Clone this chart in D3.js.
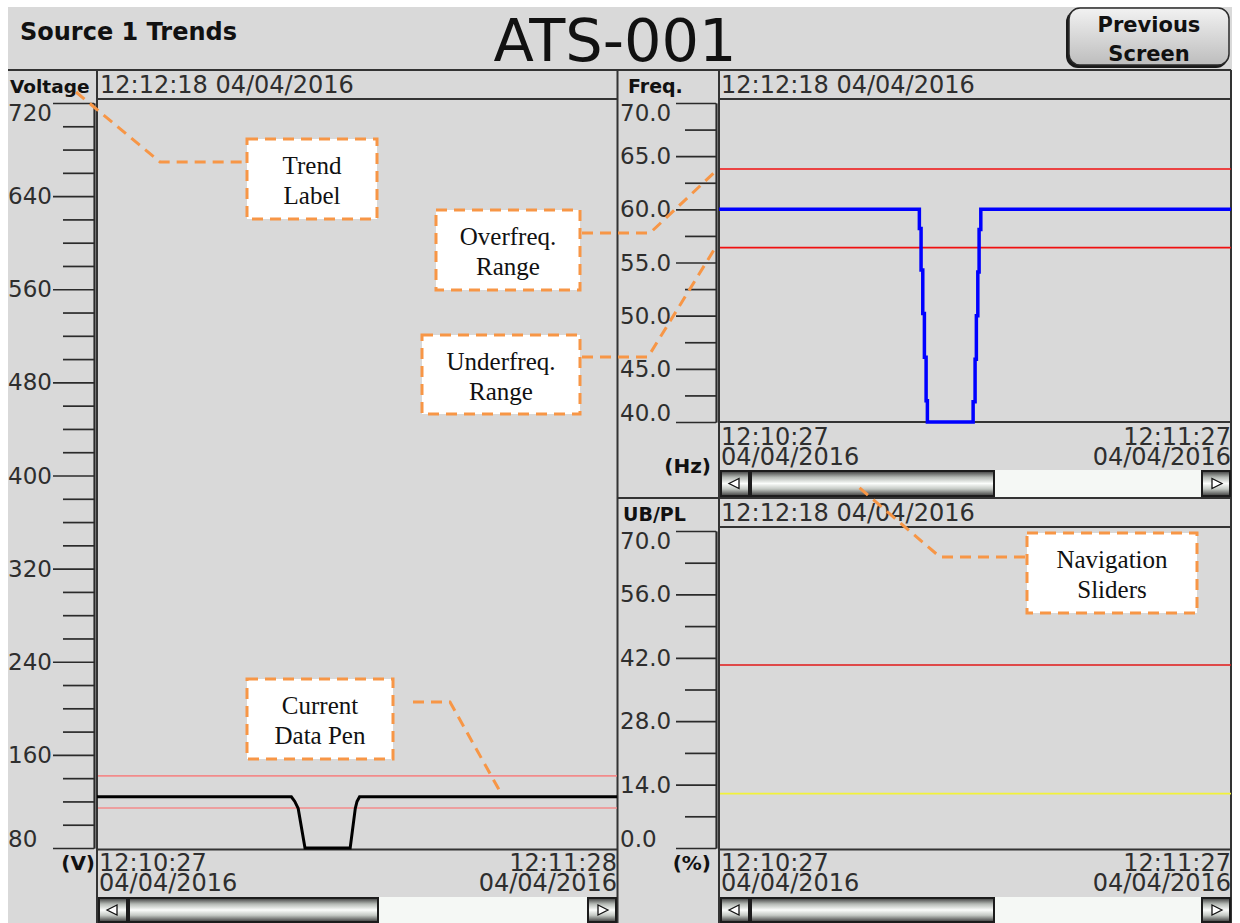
<!DOCTYPE html>
<html>
<head>
<meta charset="utf-8">
<script src="https://cdn.jsdelivr.net/npm/d3@7"></script>
<style>
  body { margin: 0; background: #fff; }
  svg { display: block; }
  .thin { font-family: 'DejaVu Sans', sans-serif; fill: #2e2e2e; }
  .bold { font-family: 'DejaVu Sans', sans-serif; font-weight: bold; fill: #111; }
  .note { font-family: 'Liberation Serif', 'Times New Roman', serif; fill: #111; }
</style>
</head>
<body>
<svg id="screen"></svg>
<script>
/* global d3 */

// Voltage trend (seconds after 12:10:27, volts)
const voltTime = [0, 22.8, 23.2, 23.6, 24.4, 29.7, 30.3, 30.5, 30.8, 61]
const voltValue = [124, 124, 120, 114, 80, 80, 114, 120, 124, 124]
const voltLimits = [142, 114.4]
const voltTicks = [80, 160, 240, 320, 400, 480, 560, 640, 720]

// Frequency trend (seconds after 12:10:27, Hz)
const freqTime = [0, 23.48, 23.68, 23.88, 24.07, 24.27, 24.42, 29.78, 30.01, 30.16, 30.33, 30.48, 30.68, 60]
const freqValue = [60, 58.2, 54.3, 50.2, 46.1, 42.0, 40, 41.9, 45.9, 50, 54.1, 58.1, 60, 60]
const freqLimits = [63.8, 56.4]
const freqTicks = [40, 45, 50, 55, 60, 65, 70]

// Unbalance / phase loss (%)
const ubplLimitRed = 40.4
const ubplLimitYellow = 12
const ubplTicks = [0, 14, 28, 42, 56, 70]

// Texts
const stampNow = '12:12:18 04/04/2016'
const dateLabel = '04/04/2016'
const voltTimeLabels = ['12:10:27', '12:11:28']
const freqTimeLabels = ['12:10:27', '12:11:27']

const svg = d3.select('#screen').attr('width', 1240).attr('height', 923)
const defs = svg.append('defs')

const knob = defs.append('linearGradient').attr('id', 'knob')
  .attr('x1', 0).attr('y1', 0).attr('x2', 0).attr('y2', 1)
const knobStops = [[0, '#3a3a3a'], [0.25, '#b4b9b4'], [0.5, '#fbfdfb'], [0.72, '#c4c9c4'], [1, '#3a3a3a']]
knobStops.forEach(s => knob.append('stop').attr('offset', s[0]).attr('stop-color', s[1]))

const btn = defs.append('linearGradient').attr('id', 'btn')
  .attr('x1', 0).attr('y1', 0).attr('x2', 0).attr('y2', 1)
btn.append('stop').attr('offset', 0).attr('stop-color', '#f2f2f2')
btn.append('stop').attr('offset', 1).attr('stop-color', '#bdbdbd')

// Screen background
svg.append('rect').attr('x', 8).attr('y', 7).attr('width', 1224).attr('height', 916).attr('fill', '#d9d9d9')

// Title bar
svg.append('text').attr('class', 'bold').attr('x', 20).attr('y', 40)
  .style('font-size', '24px').text('Source 1 Trends')
svg.append('text').attr('class', 'thin').attr('x', 615).attr('y', 61)
  .attr('text-anchor', 'middle').style('font-size', '59px').style('fill', '#111').text('ATS-001')

svg.append('rect').attr('x', 1066).attr('y', 10).attr('width', 162).attr('height', 58).attr('rx', 12)
  .attr('fill', '#1a1a1a')
svg.append('rect').attr('x', 1069).attr('y', 8).attr('width', 160).attr('height', 57).attr('rx', 11)
  .attr('fill', 'url(#btn)').attr('stroke', '#2a2a2a').attr('stroke-width', 1.5)
svg.append('text').attr('class', 'bold').attr('x', 1149).attr('y', 32)
  .attr('text-anchor', 'middle').style('font-size', '21px').text('Previous')
svg.append('text').attr('class', 'bold').attr('x', 1149).attr('y', 61)
  .attr('text-anchor', 'middle').style('font-size', '21px').text('Screen')

// Scales
const voltX = d3.scaleLinear().domain([0, 61]).range([97, 617])
const voltY = d3.scaleLinear().domain([80, 720]).range([848, 103])
const freqX = d3.scaleLinear().domain([0, 60]).range([719, 1231])
const freqY = d3.scaleLinear().domain([40, 70]).range([422, 103])
const ubplX = d3.scaleLinear().domain([0, 60]).range([719, 1231])
const ubplY = d3.scaleLinear().domain([0, 70]).range([848, 531])

// Frame lines
const frame = [
  [8, 70, 1231, 70],
  [97, 70, 97, 923], [97, 99, 617, 99], [97, 849.5, 617, 849.5], [617.5, 70, 617.5, 923],
  [719, 70, 719, 923], [719, 99, 1231, 99], [719, 422, 1231, 422],
  [617, 498, 1231, 498], [719, 527, 1231, 527], [719, 849.5, 1231, 849.5],
  [1231, 70, 1231, 923]
]
svg.append('g').selectAll('line').data(frame).join('line')
  .attr('x1', d => d[0]).attr('y1', d => d[1]).attr('x2', d => d[2]).attr('y2', d => d[3])
  .attr('stroke', '#333').attr('stroke-width', 2)

// Y axes: long major ticks, short minor ticks, labels left aligned
function drawAxis (yScale, majors, step, axisX, majorLen, minorLen, labelX, fmt) {
  const [lo, hi] = yScale.domain()
  const minors = d3.range(lo, hi + step / 2, step).filter(v => !majors.includes(v))
  const gMinor = svg.append('g').attr('transform', `translate(${axisX},0)`).attr('color', '#2b2b2b')
    .call(d3.axisLeft(yScale).tickValues(minors).tickSize(minorLen).tickSizeOuter(0).tickFormat(''))
  const gMajor = svg.append('g').attr('transform', `translate(${axisX},0)`).attr('color', '#2b2b2b')
    .call(d3.axisLeft(yScale).tickValues(majors).tickSize(majorLen).tickSizeOuter(0).tickFormat(''))
  gMinor.selectAll('line, path').attr('stroke-width', 1.7)
  gMajor.selectAll('line, path').attr('stroke-width', 1.7)
  svg.append('g').selectAll('text').data(majors).join('text')
    .attr('class', 'thin')
    .attr('x', labelX)
    .attr('y', d => yScale(d) + (d === hi ? 18 : d === lo ? -1 : 8))
    .style('font-size', '23px')
    .text(fmt)
}

drawAxis(voltY, voltTicks, 20, 94, 41, 31, 8, d => d)
drawAxis(freqY, freqTicks, 2.5, 716, 40, 31, 620, d => d.toFixed(1))
drawAxis(ubplY, ubplTicks, 7, 716, 40, 31, 620, d => d.toFixed(1))

// Header rows
function header (label, x, y, stampX, size) {
  svg.append('text').attr('class', 'bold').attr('x', x).attr('y', y)
    .style('font-size', size + 'px').text(label)
  svg.append('text').attr('class', 'thin').attr('x', stampX).attr('y', y)
    .style('font-size', '24px').text(stampNow)
}
header('Voltage', 10, 93, 100, 18.5)
header('Freq.', 628, 93, 721, 19)
header('UB/PL', 623, 521, 721, 19)

// Unit labels
svg.append('text').attr('class', 'bold').attr('x', 95).attr('y', 870)
  .attr('text-anchor', 'end').style('font-size', '20px').text('(V)')
svg.append('text').attr('class', 'bold').attr('x', 711).attr('y', 473)
  .attr('text-anchor', 'end').style('font-size', '20px').text('(Hz)')
svg.append('text').attr('class', 'bold').attr('x', 711).attr('y', 870)
  .attr('text-anchor', 'end').style('font-size', '20px').text('(%)')

// Time labels under the plots
function timeLabels (xScale, labels, y) {
  const [t0, t1] = xScale.domain()
  const spots = [[t0, 'start', 2, labels[0]], [t1, 'end', 0, labels[1]]]
  spots.forEach(s => {
    const t = svg.append('text').attr('class', 'thin').attr('text-anchor', s[1])
      .attr('x', xScale(s[0]) + s[2]).style('font-size', '24px')
    t.append('tspan').attr('x', xScale(s[0]) + s[2]).attr('y', y).text(s[3])
    t.append('tspan').attr('x', xScale(s[0]) + s[2]).attr('y', y + 20).text(dateLabel)
  })
}
timeLabels(voltX, voltTimeLabels, 871)
timeLabels(freqX, freqTimeLabels, 445)
timeLabels(ubplX, freqTimeLabels, 871)

// Limit lines
function hLine (xScale, y, color, w) {
  const [a, b] = xScale.range()
  svg.append('line').attr('x1', a + 1).attr('x2', b).attr('y1', y).attr('y2', y)
    .attr('stroke', color).attr('stroke-width', w)
}
voltLimits.forEach(v => hLine(voltX, voltY(v), '#f28b8b', 1.6))
freqLimits.forEach(v => hLine(freqX, freqY(v), '#f01010', 1.6))
hLine(ubplX, ubplY(ubplLimitRed), '#e01818', 1.6)
hLine(ubplX, ubplY(ubplLimitYellow), '#f2f23a', 1.6)

// Data pens
const voltLine = d3.line().x((d, i) => voltX(voltTime[i])).y(d => voltY(d))
svg.append('path').attr('d', voltLine(voltValue))
  .attr('fill', 'none').attr('stroke', '#000').attr('stroke-width', 3)

const freqLine = d3.line().curve(d3.curveStepAfter)
  .x((d, i) => freqX(freqTime[i])).y(d => freqY(d))
svg.append('path').attr('d', freqLine(freqValue))
  .attr('fill', 'none').attr('stroke', '#0000ff').attr('stroke-width', 3.5)

// Navigation sliders
function slider (x0, x1, y0, y1, thumbEnd) {
  const g = svg.append('g')
  g.append('rect').attr('x', x0).attr('y', y0).attr('width', x1 - x0).attr('height', y1 - y0)
    .attr('fill', '#f5f8f5')
  const parts = [[x0, x0 + 30], [x0 + 30, thumbEnd], [x1 - 30, x1]]
  parts.forEach(p => {
    g.append('rect').attr('x', p[0] + 1).attr('y', y0 + 1).attr('width', p[1] - p[0] - 2).attr('height', y1 - y0 - 2)
      .attr('fill', 'url(#knob)').attr('stroke', '#1c1c1c').attr('stroke-width', 2)
  })
  const ym = (y0 + y1) / 2
  const lx = x0 + 15
  const rx = x1 - 15
  g.append('path').attr('d', `M${lx - 6},${ym} L${lx + 4},${ym - 5} L${lx + 4},${ym + 5} Z`)
    .attr('fill', '#fff').attr('stroke', '#111').attr('stroke-width', 1.3)
  g.append('path').attr('d', `M${rx + 6},${ym} L${rx - 4},${ym - 5} L${rx - 4},${ym + 5} Z`)
    .attr('fill', '#fff').attr('stroke', '#111').attr('stroke-width', 1.3)
}
slider(98, 617, 897, 923, 379)
slider(720, 1231, 470, 497, 995)
slider(720, 1231, 897, 923, 995)

// Callouts
const notes = [
  { lines: ['Trend', 'Label'], box: [247, 139, 130, 80], lead: [[76, 92], [160, 162], [246, 162]] },
  { lines: ['Overfreq.', 'Range'], box: [436, 210, 144, 80], lead: [[582, 233], [650, 233], [717, 170]] },
  { lines: ['Underfreq.', 'Range'], box: [422, 335, 158, 79], lead: [[582, 357], [648, 357], [717, 245]] },
  { lines: ['Current', 'Data Pen'], box: [247, 679, 146, 80], lead: [[413, 702], [450, 702], [502, 795]] },
  { lines: ['Navigation', 'Sliders'], box: [1027, 533, 170, 80], lead: [[1025, 557], [940, 557], [855, 484]] }
]
const orange = '#f79646'
notes.forEach(n => {
  svg.append('path').attr('d', d3.line()(n.lead))
    .attr('fill', 'none').attr('stroke', orange).attr('stroke-width', 3).attr('stroke-dasharray', '11,7')
  const [bx, by, bw, bh] = n.box
  svg.append('rect').attr('x', bx).attr('y', by).attr('width', bw).attr('height', bh)
    .attr('fill', '#fff').attr('stroke', orange).attr('stroke-width', 3).attr('stroke-dasharray', '11,7')
  n.lines.forEach((s, i) => {
    svg.append('text').attr('class', 'note').attr('x', bx + bw / 2).attr('y', by + 35 + i * 30)
      .attr('text-anchor', 'middle').style('font-size', '25px').text(s)
  })
})
</script>
</body>
</html>
